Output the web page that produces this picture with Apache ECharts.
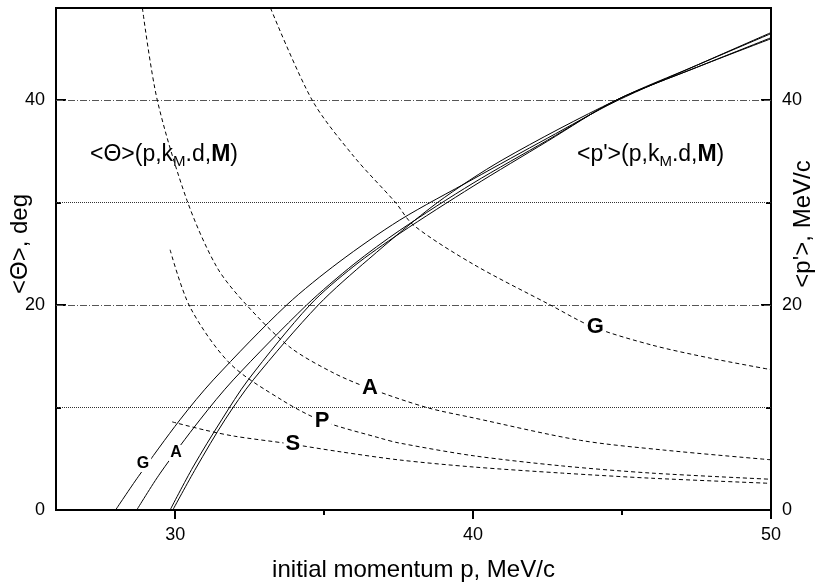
<!DOCTYPE html>
<html><head><meta charset="utf-8">
<script src="https://cdn.jsdelivr.net/npm/echarts@6/dist/echarts.min.js"></script>
<style>html,body{margin:0;padding:0;background:#fff}#c{width:818px;height:587px}</style>
</head><body><div id="c"></div>
<script>
// Axis ticks (p in MeV/c, angles in deg, p' in MeV/c)
const xTickValues = [30, 40, 50];
const xMinorTicks = [35, 45];
const yTickValues = [0, 20, 40];
const yMinorTicks = [10, 30];
const gridDashDot = [20, 40];
const gridDotted = [10, 30];

// Mean scattering angle <Θ>(p), dashed curves
const thG_p = [33.2, 34.6, 36.0, 37.4, 38.0, 40.0, 42.6, 44.0, 46.0, 48.0, 50.0];
const thG_v = [49.0, 40.0, 34.5, 30.0, 27.8, 24.0, 20.0, 17.9, 16.1, 14.8, 13.7];
const thA_p = [28.9, 29.4, 30.4, 31.4, 32.4, 33.85, 35.3, 36.5, 38.45, 40.0, 43.6, 46.4, 50.0];
const thA_v = [49.0, 40.0, 30.2, 23.7, 20.0, 15.9, 13.4, 11.9, 10.0, 9.0, 6.8, 5.85, 4.9];
const thP_p = [29.83, 30.5, 31.84, 33.6, 34.93, 36.9, 37.5, 40.0, 43.0, 46.0, 50.0];
const thP_v = [25.4, 19.8, 14.3, 10.7, 8.7, 7.0, 6.55, 5.3, 4.3, 3.6, 3.0];
const thS_p = [29.9, 31.0, 32.0, 33.74, 35.5, 37.54, 40.0, 43.0, 46.0, 50.0];
const thS_v = [8.6, 7.8, 7.2, 6.5, 5.7, 4.88, 4.2, 3.6, 3.1, 2.6];

// Mean final momentum <p'>(p), solid curves
const pG_p = [28.0, 28.76, 30.16, 31.28, 33.74, 35.5, 37.54, 40.0, 42.5, 44.8, 47.5, 50.0];
const pG_v = [0.0, 3.25, 8.8, 12.7, 20.0, 24.2, 28.3, 32.3, 36.3, 39.9, 43.4, 46.6];
const pA_p = [28.71, 29.5, 30.83, 31.95, 34.41, 36.0, 37.54, 40.0, 42.5, 44.8, 47.5, 50.0];
const pA_v = [0.0, 3.6, 8.8, 12.7, 20.0, 24.0, 27.3, 31.9, 36.1, 40.0, 43.4, 46.5];
const pP_p = [29.83, 30.6, 31.56, 32.45, 34.52, 36.0, 37.54, 40.0, 42.5, 44.8, 47.5, 50.0];
const pP_v = [0.0, 4.2, 8.8, 12.7, 20.0, 23.8, 27.0, 31.6, 36.0, 40.0, 43.2, 46.1];
const pS_p = [29.92, 30.7, 31.67, 32.62, 34.8, 36.5, 38.8, 41.0, 44.8, 47.5, 50.0];
const pS_v = [0.0, 4.1, 8.8, 12.7, 20.0, 24.5, 30.0, 34.2, 40.0, 43.2, 46.0];

// Curve labels
const thetaLabels = [['G', 44.1, 17.85], ['A', 36.54, 11.9], ['P', 34.93, 8.68], ['S', 33.95, 6.44]];
const pLabels = [['G', 28.92, 4.49], ['A', 30.03, 5.56]];

const zip = (xs, ys) => xs.map((x, i) => [x, ys[i]]);
const FONT = 'Liberation Sans, Arial, Helvetica, sans-serif';

function labelPoints(list, size) {
  return {
    symbol: 'circle', symbolSize: 1, silent: true, animation: false,
    itemStyle: { color: 'rgba(0,0,0,0)' },
    label: {
      show: true, position: 'inside', formatter: p => p.name,
      fontFamily: FONT, fontWeight: 'bold', fontSize: size, color: '#000',
      backgroundColor: '#fff', padding: [0, 2]
    },
    data: list.map(([n, x, y]) => ({ name: n, coord: [x, y] }))
  };
}

const dashed = { color: '#000', width: 1, type: [4, 3] };
const solid = { color: '#000', width: 1 };

function curve(data, yAxisIndex, lineStyle, extra) {
  return Object.assign({
    type: 'line', data, yAxisIndex, xAxisIndex: 0,
    showSymbol: false, smooth: 0.3,
    lineStyle, silent: true, animation: false, z: 3
  }, extra || {});
}

const gridLines = gridDashDot.map(v => ({ yAxis: v, lineStyle: { type: [7, 2, 1, 2], color: '#555', width: 1 } }))
  .concat(gridDotted.map(v => ({ yAxis: v, lineStyle: { type: [1, 1], color: '#333', width: 1 } })));

const axisLineStyle = { color: '#000', width: 2 };
const nameStyle = { fontSize: 24, color: '#000', fontFamily: FONT };
const tickFont = { fontSize: 18, color: '#000', fontFamily: FONT };

const formulaRich = {
  n: { fontSize: 23, fontFamily: FONT, fill: '#000' },
  s: { fontSize: 15, fontFamily: FONT, fill: '#000', padding: [14, 0, 0, 0] },
  b: { fontSize: 23, fontFamily: FONT, fontWeight: 'bold', fill: '#000' }
};

const option = {
  backgroundColor: '#fff',
  animation: false,
  grid: {
    left: 56, right: 47, top: 8, bottom: 77, outerBoundsMode: 'none', containLabel: false,
    show: true, borderColor: '#000', borderWidth: 2, backgroundColor: 'transparent'
  },
  xAxis: [
    {
      type: 'value', min: 26, max: 50, position: 'bottom',
      axisLine: { lineStyle: axisLineStyle },
      axisTick: { customValues: xTickValues, length: 9, lineStyle: { color: '#000', width: 2 } },
      axisLabel: Object.assign({ customValues: xTickValues, margin: 16 }, tickFont),
      splitLine: { show: false },
      name: 'initial momentum p, MeV/c', nameLocation: 'middle', nameGap: 48, nameMoveOverlap: false,
      nameTextStyle: nameStyle
    },
    {
      type: 'value', min: 26, max: 50, position: 'bottom',
      axisLine: { show: false },
      axisTick: { customValues: xMinorTicks, length: 5, lineStyle: { color: '#000', width: 2 } },
      axisLabel: { show: false }, splitLine: { show: false }
    }
  ],
  yAxis: [
    {
      type: 'value', min: 0, max: 49, position: 'left',
      axisLine: { show: true, lineStyle: axisLineStyle },
      axisTick: { customValues: yTickValues, inside: true, length: 10, lineStyle: { color: '#000', width: 2 } },
      axisLabel: Object.assign({ customValues: yTickValues, margin: 11 }, tickFont),
      splitLine: { show: false },
      name: '<Θ>, deg', nameLocation: 'middle', nameRotate: 90, nameGap: 24, nameMoveOverlap: false,
      nameTextStyle: Object.assign({ padding: [0, 0, 0, 30] }, nameStyle)
    },
    {
      type: 'value', min: 0, max: 49, position: 'right',
      axisLine: { show: true, lineStyle: axisLineStyle },
      axisTick: { customValues: yTickValues, inside: true, length: 10, lineStyle: { color: '#000', width: 2 } },
      axisLabel: Object.assign({ customValues: yTickValues, margin: 11 }, tickFont),
      splitLine: { show: false },
      name: "<p'>, MeV/c", nameLocation: 'middle', nameRotate: 90, nameGap: 20, nameMoveOverlap: false,
      nameTextStyle: Object.assign({ padding: [0, 0, 0, 70] }, nameStyle)
    },
    {
      type: 'value', min: 0, max: 49, position: 'left',
      axisLine: { show: false },
      axisTick: { customValues: yMinorTicks, inside: true, length: 5, lineStyle: { color: '#000', width: 2 } },
      axisLabel: { show: false }, splitLine: { show: false }
    },
    {
      type: 'value', min: 0, max: 49, position: 'right',
      axisLine: { show: false },
      axisTick: { customValues: yMinorTicks, inside: true, length: 5, lineStyle: { color: '#000', width: 2 } },
      axisLabel: { show: false }, splitLine: { show: false }
    }
  ],
  graphic: [
    { type: 'text', left: 90, top: 143, silent: true,
      style: { text: '{n|<Θ>(p,k}{s|M}{n|.d,}{b|M}{n|)}', rich: formulaRich } },
    { type: 'text', left: 577, top: 143, silent: true,
      style: { text: "{n|<p'>(p,k}{s|M}{n|.d,}{b|M}{n|)}", rich: formulaRich } }
  ],
  series: [
    curve(zip(thG_p, thG_v), 0, dashed, {
      markLine: { silent: true, animation: false, symbol: ['none', 'none'], label: { show: false }, data: gridLines, z: 1 }
    }),
    curve(zip(thA_p, thA_v), 0, dashed),
    curve(zip(thP_p, thP_v), 0, dashed),
    curve(zip(thS_p, thS_v), 0, dashed, { markPoint: labelPoints(thetaLabels, 22) }),
    curve(zip(pG_p, pG_v), 1, solid),
    curve(zip(pA_p, pA_v), 1, solid),
    curve(zip(pP_p, pP_v), 1, solid),
    curve(zip(pS_p, pS_v), 1, solid, { markPoint: labelPoints(pLabels, 16) })
  ]
};

echarts.init(document.getElementById('c'), null, { renderer: 'canvas' }).setOption(option);
</script>
</body></html>
